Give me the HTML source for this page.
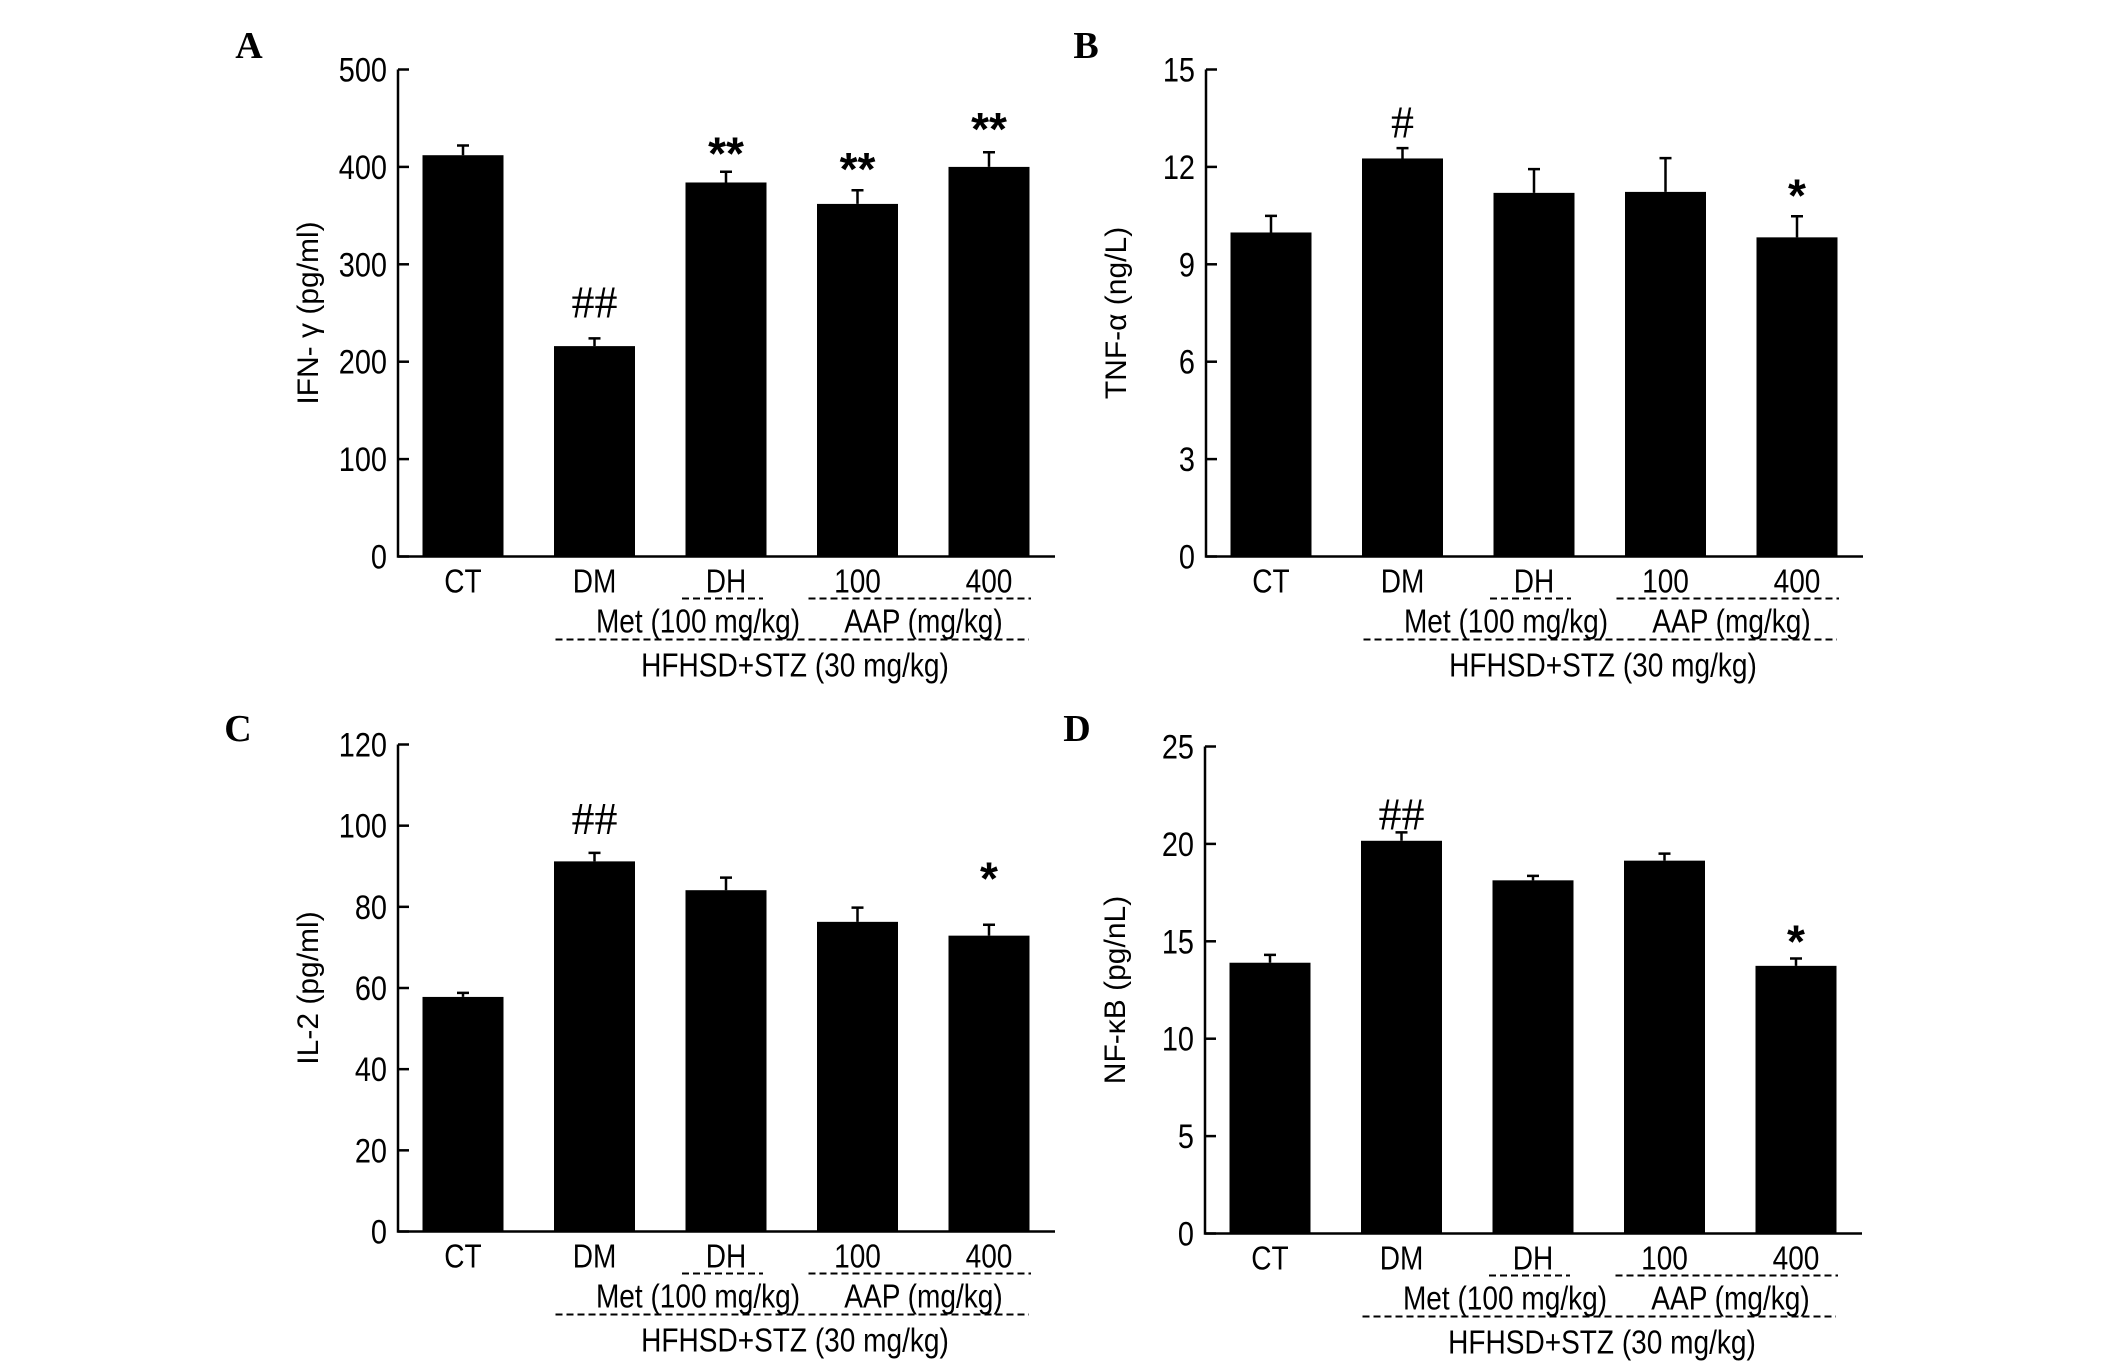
<!DOCTYPE html>
<html><head><meta charset="utf-8"><style>
html,body{margin:0;padding:0;background:#fff;}
svg{display:block;}
</style></head><body>
<svg id="fig" width="2126" height="1365" viewBox="0 0 2126 1365" xmlns="http://www.w3.org/2000/svg"></svg>
<script>
const categories = ["CT","DM","DH","100","400"];
const valuesA = [412, 216, 384, 362, 400];
const errorsA = [422, 224, 395, 376, 415];
const valuesB = [9.98, 12.26, 11.2, 11.23, 9.83];
const errorsB = [10.49, 12.58, 11.93, 12.27, 10.48];
const valuesC = [57.8, 91.2, 84.1, 76.3, 72.9];
const errorsC = [58.8, 93.3, 87.2, 79.8, 75.6];
const valuesD = [13.9, 20.16, 18.13, 19.14, 13.74];
const errorsD = [14.3, 20.59, 18.36, 19.5, 14.12];
const ticksA = [0,100,200,300,400,500];
const ticksB = [0,3,6,9,12,15];
const ticksC = [0,20,40,60,80,100,120];
const ticksD = [0,5,10,15,20,25];
const annotA = ["", "##", "**", "**", "**"];
const annotAy = [0, 261, 422, 406, 447];
const annotB = ["", "#", "", "", "*"];
const annotBy = [0, 13.37, 0, 0, 11.36];
const annotC = ["", "##", "", "", "*"];
const annotCy = [0, 101.6, 0, 0, 88.9];
const annotD = ["", "##", "", "", "*"];
const annotDy = [0, 21.5, 0, 0, 15.4];

const NS = "http://www.w3.org/2000/svg";
const svg = document.getElementById('fig');
function mk(tag, attrs, parent){
  const e = document.createElementNS(NS, tag);
  for (const k in attrs) e.setAttribute(k, attrs[k]);
  (parent||svg).appendChild(e);
  return e;
}
function txt(parent, s, x, y, size, anchor, family, sx, weight){
  const t = mk('text', {transform:`translate(${x},${y}) scale(${sx},1)`, 'font-size':size, 'text-anchor':anchor, 'font-family':family, fill:'#000', 'font-weight':weight||'normal'}, parent);
  t.textContent = s;
  return t;
}
const SANS = '"Liberation Sans", Arial, sans-serif';
const SERIF = '"Liberation Serif", "Times New Roman", serif';

const panels = [
  {id:'a', letter:'A', ox:0, oy:0, vals:valuesA, errs:errorsA, ticks:ticksA, max:500, title:'IFN- \u03b3 (pg/ml)', ann:annotA, anny:annotAy, lx:249, ly:58},
  {id:'b', letter:'B', ox:808, oy:0, vals:valuesB, errs:errorsB, ticks:ticksB, max:15, title:'TNF-\u03b1 (ng/L)', ann:annotB, anny:annotBy, lx:1086, ly:58},
  {id:'c', letter:'C', ox:0, oy:675, vals:valuesC, errs:errorsC, ticks:ticksC, max:120, title:'IL-2 (pg/ml)', ann:annotC, anny:annotCy, lx:238, ly:741},
  {id:'d', letter:'D', ox:807, oy:677, vals:valuesD, errs:errorsD, ticks:ticksD, max:25, title:'NF-\u03baB (pg/nL)', ann:annotD, anny:annotDy, lx:1077, ly:741}
];

panels.forEach(p => {
  const g = mk('g', {});
  
  
  const axX = 398 + p.ox, top = 69.5 + p.oy, base = 556.5 + p.oy, right = 1055 + p.ox;
  const y = v => base - (v / p.max) * (base - top);
  const xc = i => 463 + p.ox + i * 131.5;
  const bw = 81;

  const L = txt(g, p.letter, p.lx, p.ly, 38, 'middle', SERIF, 1, 'bold');
  
  

  p.vals.forEach((v, i) => {
    const r = mk('rect', {x: xc(i) - bw/2, y: y(v), width: bw, height: base - y(v), fill: '#000'}, g);
    
    
    const e = p.errs[i];
    const el = mk('path', {d:`M${xc(i)},${y(v)}V${y(e)}M${xc(i)-6},${y(e)}H${xc(i)+6}`, stroke:'#000', 'stroke-width':2.5, fill:'none'}, g);
    
    
    if (p.ann[i]) {
      const isHash = p.ann[i].indexOf('#') >= 0;
      const cy = y(p.anny[i]);
      const a = isHash ? txt(g, p.ann[i], xc(i), cy + 15, 46, 'middle', SERIF, 1) : txt(g, p.ann[i], xc(i), cy + 24, 46, 'middle', SANS, 1, 'bold');
      
      
    }
  });

  const ax = mk('path', {d:`M${axX},${top}V${base}H${right}`, stroke:'#000', 'stroke-width':2.5, fill:'none'}, g);
  
  
  p.ticks.forEach(t => {
    const tk = mk('line', {x1:axX, x2:axX+11, y1:y(t), y2:y(t), stroke:'#000', 'stroke-width':2.5}, g);
    
    
    const tl = txt(g, String(t), axX - 11, y(t) + 12, 34, 'end', SANS, 0.85);
    
    
  });

  const yt = mk('text', {transform:`translate(${axX-80},${(top+base)/2}) rotate(-90)`, 'font-size':30, 'text-anchor':'middle', 'font-family':SANS, fill:'#000'}, g);
  yt.textContent = p.title;
  
  

  categories.forEach((c, i) => {
    const cl = txt(g, c, xc(i), base + 36, 33, 'middle', SANS, 0.85);
    
    
  });
  const dash = {stroke:'#000', 'stroke-width':2, 'stroke-dasharray':'7 4', fill:'none'};
  const d1 = mk('line', Object.assign({x1:xc(2)-44, x2:xc(2)+37, y1:base+42, y2:base+42}, dash), g);
  
  
  const d2 = mk('line', Object.assign({x1:xc(3)-49, x2:xc(4)+42, y1:base+42, y2:base+42}, dash), g);
  
  
  const t1 = txt(g, 'Met (100 mg/kg)', xc(2) - 28, base + 76, 33, 'middle', SANS, 0.85);
  
  
  const t2 = txt(g, 'AAP (mg/kg)', xc(3) + 66, base + 76, 33, 'middle', SANS, 0.85);
  
  
  const d3 = mk('line', Object.assign({x1:xc(1)-39, x2:xc(4)+40, y1:base+83, y2:base+83}, dash), g);
  
  
  const t3 = txt(g, 'HFHSD+STZ (30 mg/kg)', 795 + p.ox, base + 120, 33, 'middle', SANS, 0.85);
  
  
});
</script>
</body></html>
